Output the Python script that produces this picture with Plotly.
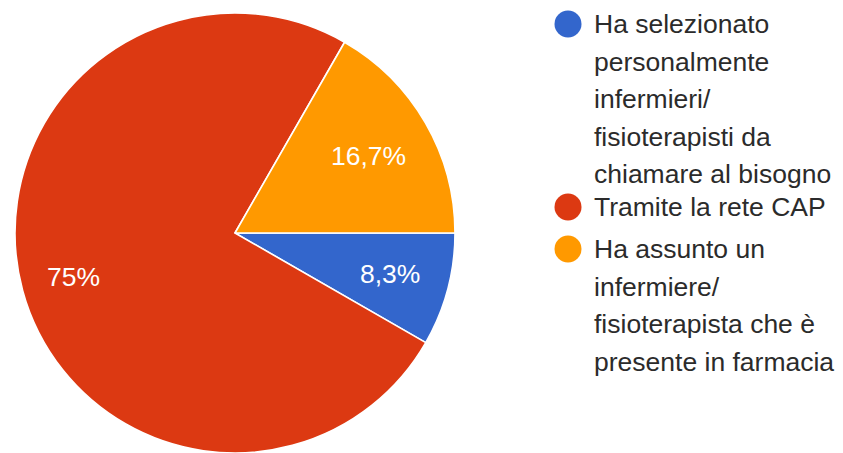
import math
import plotly.graph_objects as go

# Survey answers: how the pharmacy found nurses / physiotherapists
labels = [
    "Ha selezionato personalmente infermieri/ fisioterapisti da chiamare al bisogno",
    "Tramite la rete CAP",
    "Ha assunto un infermiere/ fisioterapista che è presente in farmacia",
]
# Legend wrapping of each label
legend_lines = [
    ["Ha selezionato", "personalmente", "infermieri/", "fisioterapisti da", "chiamare al bisogno"],
    ["Tramite la rete CAP"],
    ["Ha assunto un", "infermiere/", "fisioterapista che è", "presente in farmacia"],
]
values = [8.3, 75, 16.7]
colors = ["#3366cc", "#dc3912", "#ff9900"]

W, H = 843, 453
FONT = "Arial, Liberation Sans, sans-serif"
FS = 26.5

# Pie geometry (pixels)
CX, CY, R = 235, 233, 220
START_DEG = 0          # first slice starts at 3 o'clock, going clockwise
label_radius = [0.73, 0.76, 0.70]


def pct_text(v):
    return f"{v:g}".replace(".", ",") + "%"


fig = go.Figure(
    go.Pie(
        labels=labels,
        values=values,
        textinfo="none",
        marker=dict(colors=colors, line=dict(color="white", width=1.6)),
        sort=False,
        direction="clockwise",
        rotation=90 - START_DEG,
        hoverinfo="skip",
        showlegend=False,
        domain=dict(x=[(CX - R) / W, (CX + R) / W], y=[(H - CY - R) / H, (H - CY + R) / H]),
    )
)

annotations = []
shapes = []

# Percentage labels at the middle angle of each slice
total = sum(values)
acc = 0.0
for v, rf in zip(values, label_radius):
    mid = START_DEG - (acc + v / 2) / total * 360.0
    acc += v
    a = math.radians(mid)
    px = CX + rf * R * math.cos(a)
    py = CY - rf * R * math.sin(a)
    annotations.append(
        dict(
            text=pct_text(v), xref="paper", yref="paper",
            x=px / W, y=1 - py / H, xanchor="center", yanchor="middle",
            showarrow=False,
            font=dict(family=FONT, size=FS, color="white"),
        )
    )

# Hand-built legend: round swatches and wrapped labels
first_baselines = [33, 216, 258]
line_step = 37.6
sw_r = 13.5
sw_cx = 568
text_x = 592
for lines, color, base in zip(legend_lines, colors, first_baselines):
    cy = base - 9
    shapes.append(
        dict(
            type="circle", xref="paper", yref="paper",
            x0=(sw_cx - sw_r) / W, x1=(sw_cx + sw_r) / W,
            y0=1 - (cy + sw_r) / H, y1=1 - (cy - sw_r) / H,
            fillcolor=color, line=dict(width=0),
        )
    )
    for i, line in enumerate(lines):
        bl = base + i * line_step
        annotations.append(
            dict(
                text=line, xref="paper", yref="paper",
                x=text_x / W, y=1 - (bl - 9) / H,
                xanchor="left", yanchor="middle", showarrow=False,
                font=dict(family=FONT, size=FS, color="#2b2b2b"),
            )
        )

fig.update_layout(
    width=W, height=H,
    margin=dict(l=0, r=0, t=0, b=0),
    paper_bgcolor="white", plot_bgcolor="white",
    shapes=shapes, annotations=annotations,
)

fig.write_html("out.html", config={"displayModeBar": False})
